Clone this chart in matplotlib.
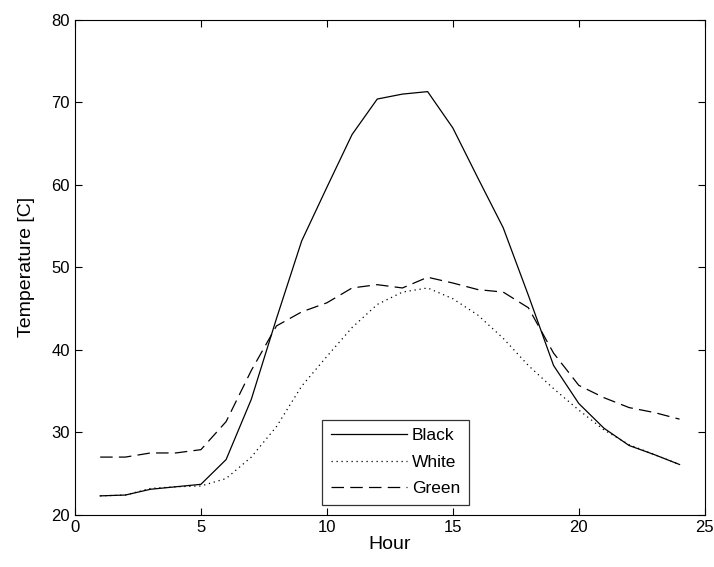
import matplotlib
matplotlib.use("Agg")
import matplotlib.pyplot as plt

plt.rcParams['font.family'] = ['Liberation Sans', 'DejaVu Sans']

hours = list(range(1, 25))
black = [22.3, 22.4, 23.1, 23.4, 23.7, 26.7, 34.0, 43.8, 53.2, 59.7, 66.1, 70.4,
         71.0, 71.3, 66.9, 60.8, 54.8, 46.6, 38.1, 33.5, 30.5, 28.4, 27.3, 26.1]
white = [22.3, 22.4, 23.2, 23.4, 23.5, 24.4, 27.0, 30.7, 35.6, 39.2, 42.7, 45.5,
         47.0, 47.5, 46.2, 44.2, 41.4, 38.1, 35.3, 32.7, 30.3, 28.5, 27.3, 26.1]
green = [27.0, 27.0, 27.5, 27.5, 27.9, 31.3, 37.5, 42.9, 44.6, 45.7, 47.5, 47.9,
         47.5, 48.8, 48.1, 47.3, 47.0, 45.1, 39.6, 35.7, 34.2, 33.0, 32.4, 31.6]

fig = plt.figure(figsize=(7.14, 5.67), dpi=100)
ax = fig.add_axes([0.105, 0.092, 0.882, 0.873])

ax.plot(hours, black, color="k", lw=0.9, label="Black")
ax.plot(hours, white, color="k", lw=0.9, linestyle=(0, (1, 3)), label="White")
ax.plot(hours, green, color="k", lw=0.9, linestyle=(0, (10, 5)), label="Green")

ax.set_xlim(0, 25)
ax.set_ylim(20, 80)
ax.set_xticks([0, 5, 10, 15, 20, 25])
ax.set_yticks([20, 30, 40, 50, 60, 70, 80])
ax.tick_params(direction="in", top=True, right=True, labelsize=12, length=5)
ax.set_xlabel("Hour", fontsize=14, labelpad=1)
ax.set_ylabel("Temperature [C]", fontsize=14, labelpad=12)

leg = ax.legend(loc="lower left", bbox_to_anchor=(0.392, 0.02), fontsize=12.5,
                frameon=True, fancybox=False, edgecolor="k", handlelength=4.4,
                borderpad=0.5, labelspacing=0.65, handletextpad=0.3,
                borderaxespad=0)
leg.get_frame().set_linewidth(0.9)

fig.savefig("out.png", dpi=100)
